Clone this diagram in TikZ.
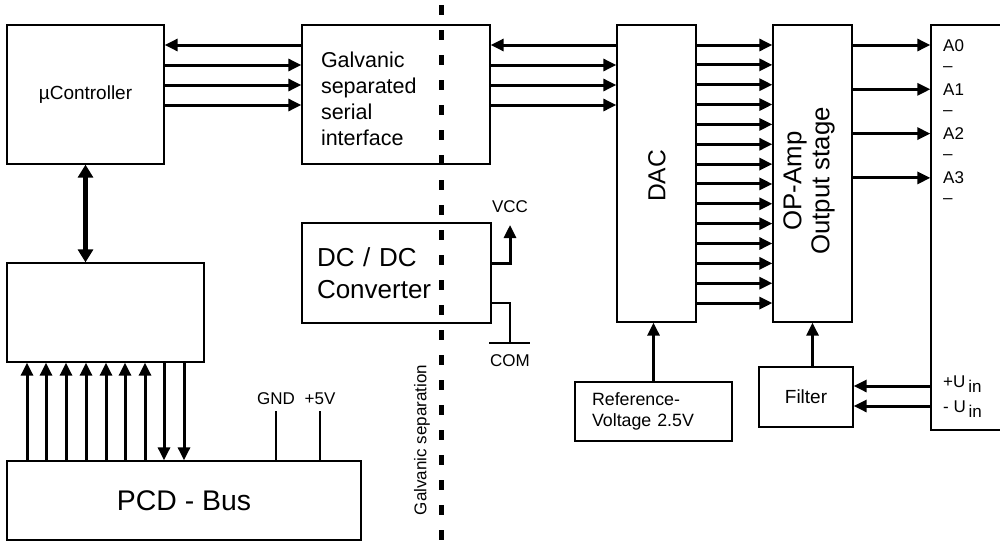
\documentclass[tikz,border=0pt]{standalone}
\usepackage{fontspec}
\setmainfont{Liberation Sans}
\usetikzlibrary{arrows.meta,positioning}

\begin{document}
\begin{tikzpicture}[
  x=1pt, y=-1pt,
  box/.style={rectangle, draw=black, line width=1.3pt, inner sep=0pt, align=center},
  sig/.style={-{Triangle[length=13pt, width=12pt]}, line width=3pt},
  bus/.style={{Triangle[length=13pt, width=15pt]}-{Triangle[length=13pt, width=15pt]}, line width=5.5pt},
  wire/.style={line width=1.2pt},
  lbl/.style={inner sep=1pt, font=\fontsize{17}{20}\selectfont},
  sepline/.style={line width=5pt, dash pattern=on 10pt off 15pt}
  ]
  \useasboundingbox (0,0) rectangle (1000,541);
  \clip (0,0) rectangle (1000,541);

  % blocks
  \node[box, minimum width=157pt, minimum height=139pt, font=\fontsize{19}{23}\selectfont] (uc) at (85.5,94.5) {µController};
  \node[box, minimum width=188pt, minimum height=139pt, text width=150pt, inner xsep=19pt, align=left,
        font=\fontsize{21.5}{26}\selectfont] (gal) at (396,94.5) {\rule{0pt}{23.5pt}Galvanic\\separated\\serial\\interface};
  \node[box, minimum width=189pt, minimum height=100pt, text width=159pt, inner xsep=15pt, align=left,
        font=\fontsize{26}{32}\selectfont] (dcdc) at (396.5,273) {DC / DC\\Converter};
  \node[box, minimum width=79pt, minimum height=297pt] (dac) at (656.5,173.5) {};
  \node[rotate=90, font=\fontsize{24.6}{28}\selectfont] (dactxt) at (657,176) {DAC};
  \node[box, minimum width=79pt, minimum height=297pt] (opamp) at (812.5,173.5) {};
  \node[rotate=90, align=center, font=\fontsize{25.8}{28}\selectfont] (optxt) at (809,181) {OP-Amp\\Output stage};
  \node[box, minimum width=74pt, minimum height=405pt] (outs) at (968,227.5) {};
  \node[box, minimum width=94pt, minimum height=60pt, font=\fontsize{19}{23}\selectfont] (filter) at (806,397) {Filter};
  \node[box, minimum width=157pt, minimum height=59pt, text width=123pt, inner xsep=17pt, align=left,
        font=\fontsize{17.8}{21.5}\selectfont] (vref) at (653.5,411.5) {Reference-\\Voltage 2.5V};
  \node[box, minimum width=197pt, minimum height=99pt] (mid) at (105.5,312.5) {};
  \node[box, minimum width=354pt, minimum height=79pt, font=\fontsize{28.4}{34}\selectfont] (pcd) at (184,500.5) {PCD - Bus};

  % serial link
  \draw[sig] (gal.west |- 0,45) -- (uc.east |- 0,45);
  \foreach \y in {65,85,105} \draw[sig] (uc.east |- 0,\y) -- (gal.west |- 0,\y);
  \draw[sig] (dac.west |- 0,45) -- (gal.east |- 0,45);
  \foreach \y in {65,85,105} \draw[sig] (gal.east |- 0,\y) -- (dac.west |- 0,\y);

  % DAC to output stage
  \foreach \i [evaluate=\i as \y using 45+19.85*\i] in {0,...,13}
    \draw[sig] (dac.east |- 0,\y) -- (opamp.west |- 0,\y);

  % outputs
  \foreach \i [evaluate=\i as \y using 45+44.3*\i] in {0,...,3} {
    \draw[sig] (opamp.east |- 0,\y) -- (outs.west |- 0,\y);
    \node[lbl, anchor=base west] (a\i) at (942,\y+6) {A\i};
    \node[lbl, anchor=base west] (d\i) at (942,\y+26) {–};
  }

  % inputs and filter
  \draw[sig] (outs.west |- 0,386) -- (filter.east |- 0,386);
  \draw[sig] (outs.west |- 0,406) -- (filter.east |- 0,406);
  \node[lbl, anchor=base west] (uinp) at (942,387) {+U\,\raisebox{-5pt}{in}};
  \node[lbl, anchor=base west] (uinm) at (942,412) {- U\,\raisebox{-5pt}{in}};
  \draw[sig] (opamp.south |- filter.north) -- (opamp.south);
  \draw[sig] (vref.north) -- (vref.north |- dac.south);

  % supply
  \coordinate (vcc) at (510,225);
  \coordinate (com) at (510,343);
  \draw[sig] (dcdc.east |- 0,263) -| (vcc);
  \draw[wire] (dcdc.east |- 0,303) -| (com);
  \draw[wire] ([xshift=-21pt]com) -- ([xshift=20pt]com);
  \node[lbl, above=11pt of vcc] (vcctxt) {VCC};
  \node[lbl, below=10pt of com] (comtxt) {COM};

  % bus side
  \draw[bus] (uc.south) -- (uc.south |- mid.north);
  \foreach \x in {27,46,66,86,106,125,145} \draw[sig] (pcd.north -| \x,0) -- (mid.south -| \x,0);
  \foreach \x in {164,184} \draw[sig] (mid.south -| \x,0) -- (pcd.north -| \x,0);
  \coordinate (gnd) at (276,411);
  \coordinate (p5v) at (320,411);
  \draw[wire] (pcd.north -| gnd) -- (gnd);
  \draw[wire] (pcd.north -| p5v) -- (p5v);
  \node[lbl, above=5pt of gnd] (gndtxt) {GND};
  \node[lbl, above=5pt of p5v] (p5vtxt) {+5V};

  % separation
  \draw[sepline] (441,5) -- (441,541);
  \node[lbl, rotate=90] (septxt) at (422,440) {Galvanic separation};
\end{tikzpicture}
\end{document}
